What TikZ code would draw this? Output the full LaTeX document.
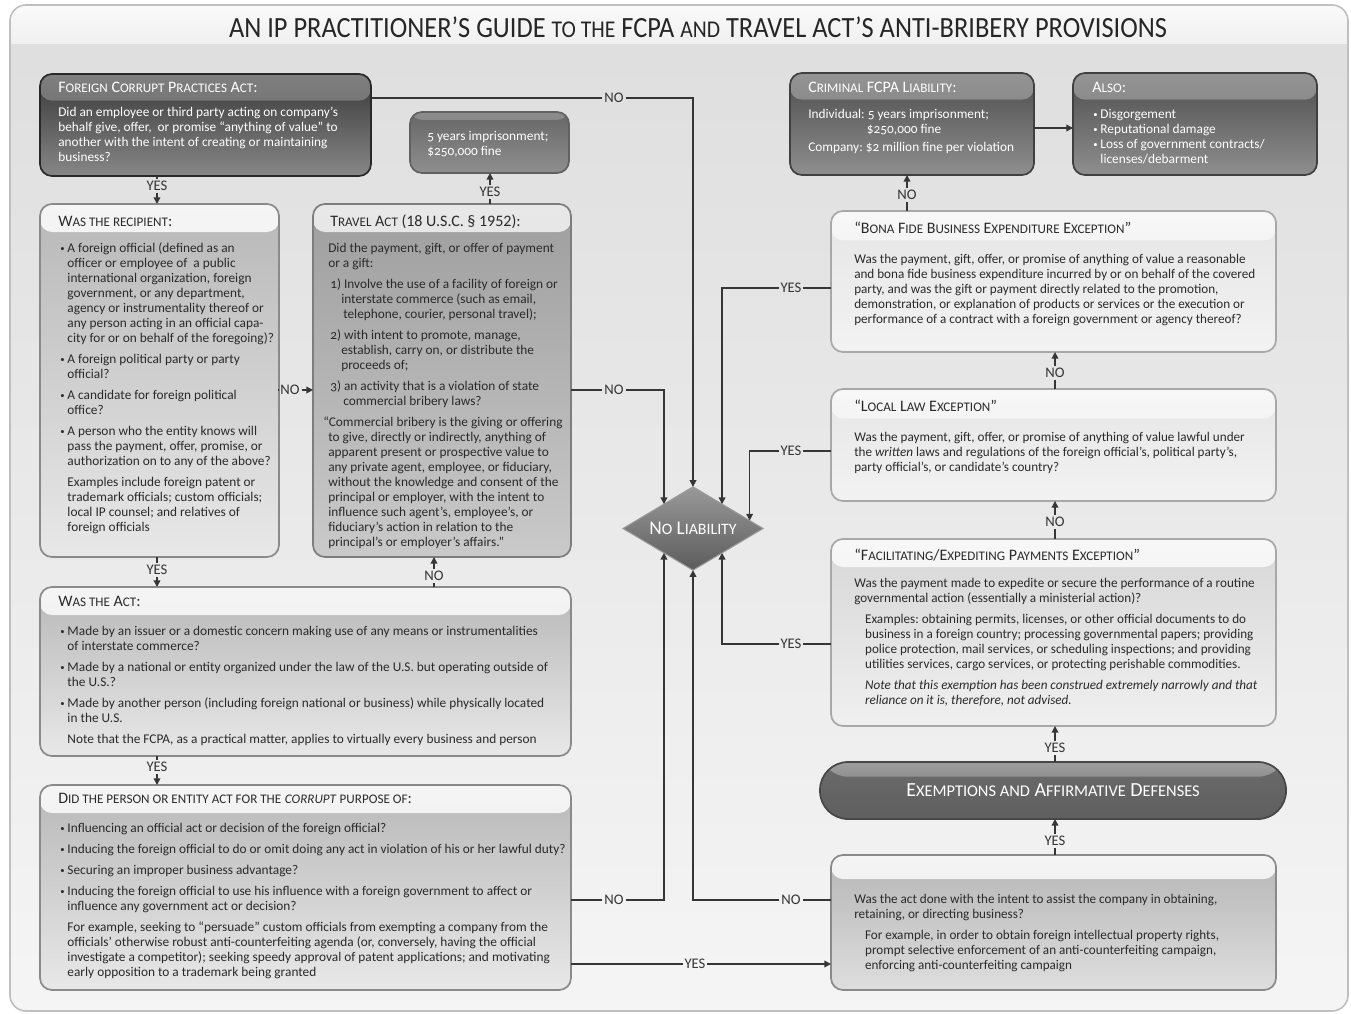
\documentclass[tikz,border=0pt]{standalone}
\usepackage{fontspec}
\usepackage{graphicx}
\setmainfont{Carlito}[Numbers=OldStyle]
\usetikzlibrary{shapes.geometric,arrows.meta,calc}
\frenchspacing

\definecolor{linec}{HTML}{363636}
\definecolor{txtc}{HTML}{2A2A2A}
\newcommand\scs[1]{\scalebox{0.82}{#1}}
\newcommand\bu{\makebox[5.4pt][l]{\raisebox{0.6pt}{\scalebox{0.65}{•}}}}
\newcommand\ind{\hspace*{5.4pt}}
\newcommand\tb[2][1]{\scalebox{#1}[1]{\begin{tabular}[t]{@{}l@{}}#2\end{tabular}}}
\newcommand\panel[6]{\node[#6, anchor=north west, minimum width={(#4-#2)*0.75pt}, minimum height={(#5-#3)*0.75pt}] (#1) at (#2,#3) {};}
\newcommand\bodyf{\fontsize{10}{11.25}\selectfont}
\newcommand\hdf{\fontsize{12}{13}\selectfont}

\tikzset{
  panel/.style={rectangle, rounded corners=9pt, inner sep=0pt, outer sep=0pt, line width=1.3pt},
  hdr/.style n args={3}{path picture={\shade[top color=#1, bottom color=#2] (path picture bounding box.north west) rectangle ([yshift=-#3]path picture bounding box.north east);}},
  darkbox/.style={panel, draw=black!84, top color=black!78, bottom color=black!47, hdr={black!50}{black!64}{20pt}},
  midbox/.style={panel, draw=black!75, top color=black!70, bottom color=black!44, hdr={black!42}{black!55}{20pt}},
  fivebox/.style={panel, draw=black!62, top color=black!60, bottom color=black!44, hdr={black!45}{black!58}{6pt}},
  lightbox/.style={panel, draw=black!46, top color=black!28, bottom color=black!9, hdr={black!4}{black!10}{21pt}},
  travbox/.style={panel, draw=black!51, top color=black!38, bottom color=black!21, hdr={black!9}{black!16}{21pt}},
  palebox/.style={panel, draw=black!34, top color=black!10, bottom color=black!5, hdr={black!3}{black!8}{22pt}},
  facbox/.style={panel, draw=black!34, top color=black!16, bottom color=black!6, hdr={black!3}{black!8}{21pt}},
  botbox/.style={panel, draw=black!46, top color=black!29, bottom color=black!13, hdr={black!4}{black!11}{18pt}},
  pillst/.style={rectangle, rounded corners=21pt, inner sep=0pt, outer sep=0pt, line width=1.3pt, draw=black!72, top color=black!58, bottom color=black!63, hdr={black!38}{black!58}{11pt}, text=white, font=\fontsize{15}{17}\selectfont},
  txt/.style={anchor=base west, inner sep=0pt, font=\bodyf, text=txtc},
  wtxt/.style={txt, text=white},
  hd/.style={anchor=base west, inner sep=0pt, font=\hdf, text=txtc},
  whd/.style={hd, text=white},
  lab/.style={inner sep=1.3pt, font=\fontsize{11}{13}\selectfont, text=linec},
  ln/.style={draw=linec, line width=1.1pt},
  arr/.style={ln, -{Triangle[length=5pt,width=5pt]}}
}

\begin{document}
\begin{tikzpicture}[x=0.75pt,y=-0.75pt]
\useasboundingbox (0,0) rectangle (1351,1013);
\fill[white] (0,0) rectangle (1351,1013);
% frame
\shade[top color=black!13, bottom color=black!4, rounded corners=12pt] (10,5) rectangle (1348,1011);
\begin{scope}
\clip[rounded corners=12pt] (10,5) rectangle (1348,1011);
\shade[top color=black!2, bottom color=black!6] (10,5) rectangle (1348,44);
\end{scope}
\draw[black!25, line width=1.2pt, rounded corners=12pt] (10,5) rectangle (1348,1011);

\node[anchor=base, inner sep=0pt, font=\fontsize{22}{24}\selectfont, text=black!85] (title) at (698,38)
  {\scalebox{0.9}[1]{AN IP PRACTITIONER'S GUIDE \scs{TO THE} FCPA \scs{AND} TRAVEL ACT’S ANTI-BRIBERY PROVISIONS}};

% ---------- panels ----------
\panel{fcpa}{40}{74}{371}{176}{darkbox}
\panel{five}{410}{112}{569}{173}{fivebox}
\panel{rec}{40}{204}{279}{557}{lightbox}
\panel{trav}{313}{204}{571}{557}{travbox}
\panel{act}{40}{587}{571}{756}{lightbox}
\panel{corr}{40}{785}{571}{990}{lightbox}
\panel{crim}{790}{73}{1034}{175}{midbox}
\panel{also}{1073}{73}{1317}{175}{midbox}
\panel{bona}{831}{211}{1276}{352}{palebox}
\panel{local}{831}{389}{1276}{501}{palebox}
\panel{facil}{831}{539}{1276}{726}{facbox}
\panel{bot}{831}{855}{1276}{990}{botbox}
\node[pillst, anchor=north west, minimum width={466*0.75pt}, minimum height={57*0.75pt}] (pill) at (820,762)
  {E\scs{XEMPTIONS AND} A\scs{FFIRMATIVE} D\scs{EFENSES}};
\node[diamond, aspect=1.667, minimum width=105pt, minimum height=62.5pt, inner sep=0pt, outer sep=0pt,
  top color=black!40, bottom color=black!64, draw=black!40, line width=0.8pt, text=white,
  font=\fontsize{14.5}{16}\selectfont] (nl) at (693,528.5) {N\scs{O} L\scs{IABILITY}};

% ---------- texts ----------
\node[whd] (fcpaH) at (58,93) {F\scs{OREIGN} C\scs{ORRUPT} P\scs{RACTICES} A\scs{CT}:};
\node[wtxt] (fcpaT) at (58,117) {\tb{Did an employee or third party acting on company’s\\
behalf give, offer,\ \ or promise “anything of value” to\\
another with the intent of creating or maintaining\\
business?}};

\node[wtxt] (fiveT) at (427,141) {\tb{5 years imprisonment;\\ \$250,000 fine}};

\node[hd] (recH) at (58,226) {W\scs{AS THE RECIPIENT}:};
\node[txt] (recT) at (60,252) {\tb{\bu A foreign official (defined as an\\
\ind officer or employee of\ \ a public\\
\ind international organization, foreign\\
\ind government, or any department,\\
\ind agency or instrumentality thereof or\\
\ind any person acting in an official capa-\\
\ind city for or on behalf of the foregoing)?\\[4.5pt]
\bu A foreign political party or party\\
\ind official?\\[4.5pt]
\bu A candidate for foreign political\\
\ind office?\\[4.5pt]
\bu A person who the entity knows will\\
\ind pass the payment, offer, promise, or\\
\ind authorization on to any of the above?\\[4.5pt]
\ind Examples include foreign patent or\\
\ind trademark officials; custom officials;\\
\ind local IP counsel; and relatives of\\
\ind foreign officials}};

\node[hd] (travH) at (330,226) {T\scs{RAVEL} A\scs{CT} {\addfontfeature{Numbers=Lining}(18 U.S.C. § 1952):}};
\node[txt] (travT) at (328,252) {\tb{Did the payment, gift, or offer of payment\\
or a gift:\\[4.5pt]
\hspace*{1.5pt}1) Involve the use of a facility of foreign or\\
\hspace*{9.75pt}interstate commerce (such as email,\\
\hspace*{11.25pt}telephone, courier, personal travel);\\[4.5pt]
\hspace*{1.5pt}2) with intent to promote, manage,\\
\hspace*{9.75pt}establish, carry on, or distribute the\\
\hspace*{9.75pt}proceeds of;\\[4.5pt]
\hspace*{1.5pt}3) an activity that is a violation of state\\
\hspace*{11.25pt}commercial bribery laws?\\[4.5pt]
\hspace*{-3.75pt}“Commercial bribery is the giving or offering\\
to give, directly or indirectly, anything of\\
apparent present or prospective value to\\
any private agent, employee, or fiduciary,\\
without the knowledge and consent of the\\
principal or employer, with the intent to\\
influence such agent’s, employee’s, or\\
fiduciary’s action in relation to the\\
principal’s or employer’s affairs.”}};

\node[hd] (actH) at (58,606) {W\scs{AS THE} A\scs{CT}:};
\node[txt] (actT) at (60,635) {\tb{\bu Made by an issuer or a domestic concern making use of any means or instrumentalities\\
\ind of interstate commerce?\\[4.5pt]
\bu Made by a national or entity organized under the law of the U.S. but operating outside of\\
\ind the U.S.?\\[4.5pt]
\bu Made by another person (including foreign national or business) while physically located\\
\ind in the U.S.\\[4.5pt]
\ind Note that the FCPA, as a practical matter, applies to virtually every business and person}};

\node[hd] (corrH) at (58,803) {D\scs{ID THE PERSON OR ENTITY ACT FOR THE} \textit{\scs{CORRUPT}} \scs{PURPOSE OF}:};
\node[txt] (corrT) at (60,832) {\tb{\bu Influencing an official act or decision of the foreign official?\\[4.5pt]
\bu Inducing the foreign official to do or omit doing any act in violation of his or her lawful duty?\\[4.5pt]
\bu Securing an improper business advantage?\\[4.5pt]
\bu Inducing the foreign official to use his influence with a foreign government to affect or\\
\ind influence any government act or decision?\\[4.5pt]
\ind For example, seeking to “persuade” custom officials from exempting a company from the\\
\ind officials’ otherwise robust anti-counterfeiting agenda (or, conversely, having the official\\
\ind investigate a competitor); seeking speedy approval of patent applications; and motivating\\
\ind early opposition to a trademark being granted}};

\node[whd] (crimH) at (808,93) {C\scs{RIMINAL} FCPA L\scs{IABILITY}:};
\node[wtxt] (crimT) at (808,118) {\tb{Individual: 5 years imprisonment;\\
\hspace*{44pt}\$250,000 fine\\[2.25pt]
Company: \$2 million fine per violation}};

\node[whd] (alsoH) at (1092,93) {A\scs{LSO}:};
\node[wtxt] (alsoT) at (1093,118) {\tb{\bu Disgorgement\\
\bu Reputational damage\\
\bu Loss of government contracts/\\
\ind licenses/debarment}};

\node[hd] (bonaH) at (854,233) {“B\scs{ONA} F\scs{IDE} B\scs{USINESS} E\scs{XPENDITURE} E\scs{XCEPTION}”};
\node[txt] (bonaT) at (854,263) {\tb[0.985]{Was the payment, gift, offer, or promise of anything of value a reasonable\\
and bona fide business expenditure incurred by or on behalf of the covered\\
party, and was the gift or payment directly related to the promotion,\\
demonstration, or explanation of products or services or the execution or\\
performance of a contract with a foreign government or agency thereof?}};

\node[hd] (localH) at (854,411) {“L\scs{OCAL} L\scs{AW} E\scs{XCEPTION}”};
\node[txt] (localT) at (854,441) {\tb[0.985]{Was the payment, gift, offer, or promise of anything of value lawful under\\
the \textit{written} laws and regulations of the foreign official’s, political party’s,\\
party official’s, or candidate’s country?}};

\node[hd] (facilH) at (854,560) {“F\scs{ACILITATING}/E\scs{XPEDITING} P\scs{AYMENTS} E\scs{XCEPTION}”};
\node[txt] (facilT) at (854,587) {\tb[0.985]{Was the payment made to expedite or secure the performance of a routine\\
governmental action (essentially a ministerial action)?\\[4.5pt]
\hspace*{8.25pt}Examples: obtaining permits, licenses, or other official documents to do\\
\hspace*{8.25pt}business in a foreign country; processing governmental papers; providing\\
\hspace*{8.25pt}police protection, mail services, or scheduling inspections; and providing\\
\hspace*{8.25pt}utilities services, cargo services, or protecting perishable commodities.\\[4.5pt]
\hspace*{8.25pt}\textit{Note that this exemption has been construed extremely narrowly and that}\\
\hspace*{8.25pt}\textit{reliance on it is, therefore, not advised.}}};

\node[txt] (botT) at (854,903) {\tb[0.985]{Was the act done with the intent to assist the company in obtaining,\\
retaining, or directing business?\\[4.5pt]
\hspace*{8.25pt}For example, in order to obtain foreign intellectual property rights,\\
\hspace*{8.25pt}prompt selective enforcement of an anti-counterfeiting campaign,\\
\hspace*{8.25pt}enforcing anti-counterfeiting campaign}};

% ---------- labels ----------
\node[lab] (yA) at (157,186) {YES};
\node[lab] (nA) at (614,98) {NO};
\node[lab] (yB) at (490,192) {YES};
\node[lab] (nB) at (290,390) {NO};
\node[lab] (nC) at (614,390) {NO};
\node[lab] (yC) at (157,570) {YES};
\node[lab] (nD) at (434,576) {NO};
\node[lab] (yD) at (157,767) {YES};
\node[lab] (nE) at (614,900) {NO};
\node[lab] (yE) at (695,964) {YES};
\node[lab] (nF) at (791,900) {NO};
\node[lab] (yF) at (1055,841) {YES};
\node[lab] (yG) at (1055,748) {YES};
\node[lab] (yH) at (791,644) {YES};
\node[lab] (nG) at (1055,522) {NO};
\node[lab] (yI) at (791,451) {YES};
\node[lab] (nH) at (1055,373) {NO};
\node[lab] (yJ) at (791,288) {YES};
\node[lab] (nI) at (907,195) {NO};

% ---------- connectors ----------
\draw[ln] (fcpa.south -| yA) -- (yA);  \draw[arr] (yA) -- (rec.north -| yA);
\draw[ln] (fcpa.east |- nA) -- (nA);   \draw[arr] (nA) -| (nl.north);
\draw[ln] (trav.north -| yB) -- (yB);  \draw[arr] (yB) -- (five.south -| yB);
\draw[ln] (rec.east |- nB) -- (nB);    \draw[arr] (nB) -- (trav.west |- nB);
\draw[ln] (trav.east |- nC) -- (nC);   \draw[arr] (nC) -| (nl.140);
\draw[ln] (rec.south -| yC) -- (yC);   \draw[arr] (yC) -- (act.north -| yC);
\draw[ln] (act.north -| nD) -- (nD);   \draw[arr] (nD) -- (trav.south -| nD);
\draw[ln] (act.south -| yD) -- (yD);   \draw[arr] (yD) -- (corr.north -| yD);
\draw[ln] (corr.east |- nE) -- (nE);   \draw[arr] (nE) -| (nl.220);
\draw[ln] (corr.east |- yE) -- (yE);   \draw[arr] (yE) -- (bot.west |- yE);
\draw[ln] (bot.west |- nF) -- (nF);    \draw[arr] (nF) -| (nl.south);
\draw[ln] (bot.north -| yF) -- (yF);   \draw[arr] (yF) -- (pill.south -| yF);
\draw[ln] (pill.north -| yG) -- (yG);  \draw[arr] (yG) -- (facil.south -| yG);
\draw[ln] (facil.west |- yH) -- (yH);  \draw[arr] (yH) -| (nl.320);
\draw[ln] (facil.north -| nG) -- (nG); \draw[arr] (nG) -- (local.south -| nG);
\draw[ln] (local.west |- yI) -- (yI);  \draw[arr] (yI) -| (nl.8);
\draw[ln] (local.north -| nH) -- (nH); \draw[arr] (nH) -- (bona.south -| nH);
\draw[ln] (bona.west |- yJ) -- (yJ);   \draw[arr] (yJ) -| (nl.40);
\draw[ln] (bona.north -| nI) -- (nI);  \draw[arr] (nI) -- (crim.south -| nI);
\draw[arr] ([yshift=-3pt]crim.east) -- ([yshift=-3pt]also.west);
\end{tikzpicture}
\end{document}
